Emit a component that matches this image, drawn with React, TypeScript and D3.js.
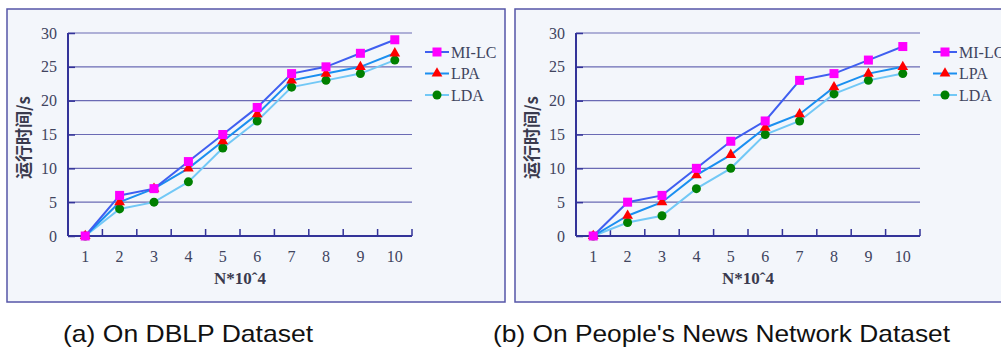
import * as d3 from "d3";
import React from "react";

const categories = ["1", "2", "3", "4", "5", "6", "7", "8", "9", "10"];
const seriesNames = ["MI-LC", "LPA", "LDA"];

// (a) DBLP
const dblpMILC = [0, 6, 7, 11, 15, 19, 24, 25, 27, 29];
const dblpLPA = [0, 5, 7, 10, 14, 18, 23, 24, 25, 27];
const dblpLDA = [0, 4, 5, 8, 13, 17, 22, 23, 24, 26];

// (b) People's News Network
const newsMILC = [0, 5, 6, 10, 14, 17, 23, 24, 26, 28];
const newsLPA = [0, 3, 5, 9, 12, 16, 18, 22, 24, 25];
const newsLDA = [0, 2, 3, 7, 10, 15, 17, 21, 23, 24];

const yTicks = [0, 5, 10, 15, 20, 25, 30];
const captions = ["(a) On DBLP Dataset", "(b) On People's News Network Dataset"];

const lineColours = ["#3f5ff0", "#1a8ff0", "#72c8f6"];
const markerColours = ["#ff00ff", "#ff0000", "#008000"];

function drawPanel(svg, x0, series) {
  const frameW = 498;
  const margin = { left: 61, top: 24 };
  const width = 344;
  const height = 203;
  const g = svg.append("g").attr("transform", `translate(${x0}, 9)`);

  g.append("rect")
    .attr("width", frameW)
    .attr("height", 293)
    .attr("fill", "#f3f6fb")
    .attr("stroke", "#5656a8")
    .attr("stroke-width", 1.5);

  const plot = g.append("g").attr("transform", `translate(${margin.left}, ${margin.top})`);

  const x = d3.scaleBand().domain(categories).range([0, width]);
  const y = d3.scaleLinear().domain([0, 30]).range([height, 0]);

  // gridlines
  plot
    .selectAll(".grid")
    .data(yTicks.filter((d) => d > 0))
    .enter()
    .append("line")
    .attr("x1", 0)
    .attr("x2", width)
    .attr("y1", (d) => y(d))
    .attr("y2", (d) => y(d))
    .attr("stroke", "#6a6ab4")
    .attr("stroke-width", 1.2);

  // y axis
  const yAxis = plot
    .append("g")
    .call(d3.axisRight(y).tickValues(yTicks).tickSize(7).tickFormat(""));
  yAxis.select(".domain").remove();
  yAxis.selectAll("line").attr("stroke", "#333399").attr("stroke-width", 1.5);
  plot.append("line").attr("x1", 0).attr("x2", 0).attr("y1", 0).attr("y2", height)
    .attr("stroke", "#333399").attr("stroke-width", 2);

  plot
    .selectAll(".ylab")
    .data(yTicks)
    .enter()
    .append("text")
    .attr("x", -11)
    .attr("y", (d) => y(d))
    .attr("dy", "0.35em")
    .attr("text-anchor", "end")
    .style("font-family", "'Liberation Serif', serif")
    .style("font-size", "16px")
    .attr("fill", "#40445e")
    .text((d) => d);

  // x axis, tick marks sit between categories
  const bounds = d3.range(1, categories.length + 1).map((i) => i * x.step());
  plot
    .selectAll(".xtick")
    .data(bounds)
    .enter()
    .append("line")
    .attr("x1", (d) => d)
    .attr("x2", (d) => d)
    .attr("y1", height)
    .attr("y2", height - 7)
    .attr("stroke", "#333399")
    .attr("stroke-width", 1.5);
  plot.append("line").attr("x1", 0).attr("x2", width).attr("y1", height).attr("y2", height)
    .attr("stroke", "#333399").attr("stroke-width", 2);

  plot
    .selectAll(".xlab")
    .data(categories)
    .enter()
    .append("text")
    .attr("x", (d) => x(d) + x.bandwidth() / 2)
    .attr("y", height + 26)
    .attr("text-anchor", "middle")
    .style("font-family", "'Liberation Serif', serif")
    .style("font-size", "16px")
    .attr("fill", "#40445e")
    .text((d) => d);

  // axis titles
  plot
    .append("text")
    .attr("x", width / 2)
    .attr("y", height + 48)
    .attr("text-anchor", "middle")
    .style("font-family", "'Liberation Serif', serif")
    .style("font-size", "17px")
    .style("font-weight", "bold")
    .attr("fill", "#3a3a4e")
    .text("N*10ˆ4");

  plot
    .append("text")
    .attr("transform", `translate(${-44}, ${height / 2 + 3}) rotate(-90)`)
    .attr("text-anchor", "middle")
    .attr("dy", "0.35em")
    .style("font-family", "'Noto Sans CJK SC', sans-serif")
    .style("font-size", "17px")
    .style("font-weight", "bold")
    .attr("fill", "#3a3a4e")
    .text("运行时间/s");

  const line = d3
    .line()
    .x((d, i) => x(categories[i]) + x.bandwidth() / 2)
    .y((d) => y(d));

  const drawMarker = (sel, k, cx, cy) => {
    if (k === 0) {
      sel.append("rect").attr("x", cx - 4.5).attr("y", cy - 4.5).attr("width", 9).attr("height", 9)
        .attr("fill", markerColours[k]);
    } else if (k === 1) {
      sel.append("path").attr("d", d3.symbol(d3.symbolTriangle, 50)()).attr("transform", `translate(${cx}, ${cy})`)
        .attr("fill", markerColours[k]);
    } else {
      sel.append("circle").attr("cx", cx).attr("cy", cy).attr("r", 4.5).attr("fill", markerColours[k]);
    }
  };

  // draw light series first so MI-LC stays on top
  [2, 1, 0].forEach((k) => {
    plot.append("path")
      .datum(series[k])
      .attr("d", line)
      .attr("fill", "none")
      .attr("stroke", lineColours[k])
      .attr("stroke-width", 2);
  });
  [2, 1, 0].forEach((k) => {
    series[k].forEach((v, i) => {
      drawMarker(plot, k, x(categories[i]) + x.bandwidth() / 2, y(v));
    });
  });

  // legend
  const legend = g.append("g").attr("transform", `translate(418, 43)`);
  seriesNames.forEach((name, k) => {
    const ly = k * 21.5;
    legend.append("line").attr("x1", 0).attr("x2", 24).attr("y1", ly).attr("y2", ly)
      .attr("stroke", lineColours[k]).attr("stroke-width", 2);
    drawMarker(legend, k, 12, ly);
    legend.append("text")
      .attr("x", 26)
      .attr("y", ly)
      .attr("dy", "0.35em")
      .style("font-family", "'Liberation Serif', serif")
      .style("font-size", "16px")
      .attr("fill", "#40445e")
      .text(name);
  });
}

export default function App() {
  const ref = React.useRef(null);

  React.useEffect(() => {
    ref.current.innerHTML = "";
    const svg = d3
      .select(ref.current)
      .append("svg")
      .attr("width", 1001)
      .attr("height", 350)
      .style("display", "block")
      .style("background", "#fff");

    drawPanel(svg, 7, [dblpMILC, dblpLPA, dblpLDA]);
    drawPanel(svg, 515, [newsMILC, newsLPA, newsLDA]);

    // captions are slightly stretched in the original
    const capPos = [
      { x: 63, len: 250 },
      { x: 493, len: 457 },
    ];
    captions.forEach((c, i) => {
      svg.append("text")
        .attr("x", capPos[i].x)
        .attr("y", 342)
        .attr("textLength", capPos[i].len)
        .attr("lengthAdjust", "spacingAndGlyphs")
        .style("font-family", "'Liberation Sans', Arial, sans-serif")
        .style("font-size", "24px")
        .attr("fill", "#111")
        .text(c);
    });
  }, []);

  return <div ref={ref} style={{ position: "absolute", left: 0, top: 0 }}></div>;
}
